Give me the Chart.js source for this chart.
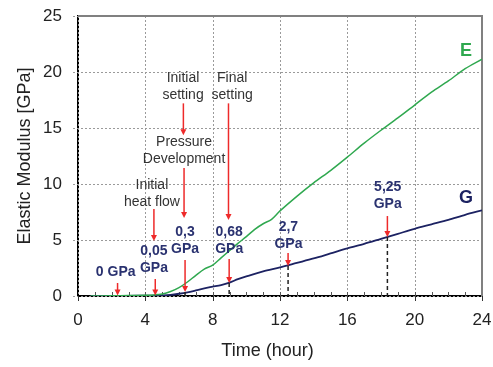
<!DOCTYPE html>
<html>
<head>
<meta charset="utf-8">
<script src="https://cdn.jsdelivr.net/npm/chart.js@4"></script>
<style>
  html, body { margin: 0; padding: 0; background: #fff; }
  #wrap { width: 493px; height: 367px; }
</style>
</head>
<body>
<div id="wrap"><canvas id="chart"></canvas></div>
<script>
// Elastic modulus vs. time
const hoursE = [0.75, 2, 3, 4, 4.5, 5, 5.5, 6, 6.5, 7, 7.5, 8, 8.5, 9, 9.5, 10, 10.5, 11, 11.5, 12, 13, 14, 15, 16, 17, 18, 19, 20, 21, 22, 23, 24];
const valuesE = [0, 0.02, 0.04, 0.07, 0.1, 0.18, 0.4, 0.75, 1.25, 1.85, 2.4, 2.75, 3.4, 4.05, 4.7, 5.3, 5.95, 6.45, 6.85, 7.6, 8.9, 10.1, 11.2, 12.4, 13.65, 14.8, 15.9, 17.05, 18.2, 19.2, 20.3, 21.15];
const hoursG = [0.75, 2, 3, 4, 5, 5.5, 6, 6.5, 7, 7.5, 8, 8.5, 9, 9.5, 10, 11, 12, 13, 14, 15, 16, 17, 18, 19, 20, 21, 22, 23, 24];
const valuesG = [0, 0.01, 0.02, 0.03, 0.06, 0.1, 0.2, 0.33, 0.5, 0.68, 0.83, 0.98, 1.2, 1.5, 1.75, 2.2, 2.55, 2.95, 3.35, 3.8, 4.25, 4.65, 5.1, 5.55, 6.0, 6.4, 6.8, 7.25, 7.65];

// red arrows (hour, from GPa, to GPa)
const arrowX = [2.35, 4.59, 4.51, 6.36, 6.3, 6.26, 8.94, 8.98, 12.48, 18.38];
const arrowFrom = [1.16, 1.52, 7.76, 3.21, 11.42, 17.2, 17.2, 3.3, 3.84, 7.14];
const arrowTo = [0.05, 0.05, 4.9, 0.36, 6.96, 14.36, 6.78, 1.16, 2.68, 5.26];

// black dashed drops to the time axis
const dropX = [6.36, 8.98, 12.48, 18.38];
const dropTop = [0.36, 1.16, 2.68, 5.26];

// text notes, centred on (hour, GPa)
const stageText = [['Initial', 'setting'], ['Final', 'setting'], ['Pressure', 'Development'], ['Initial', 'heat flow']];
const stageX = [6.24, 9.16, 6.3, 4.39];
const stageY = [18.69, 18.69, 12.98, 9.1];
const gpaText = [['0 GPa'], ['0,05', 'GPa'], ['0,3', 'GPa'], ['0,68', 'GPa'], ['2,7', 'GPa'], ['5,25', 'GPa']];
const gpaX = [2.24, 4.51, 6.36, 8.98, 12.5, 18.4];
const gpaY = [2.14, 3.21, 4.91, 4.91, 5.35, 8.92];
const seriesNames = ['E', 'G'];
const seriesNameX = [23.05, 23.05];
const seriesNameY = [21.86, 8.74];

const GREEN = '#2fa84f';
const NAVY = '#1c2262';
const LABEL_NAVY = '#2a3270';
const RED = '#ee2a2a';

const toPoints = (xs, ys) => xs.map((x, i) => ({ x, y: ys[i] }));

const drawNotes = (ctx, texts, xs, ys, xScale, yScale, lineH) => {
  texts.forEach((lines, i) => {
    const cx = xScale.getPixelForValue(xs[i]);
    const cy = yScale.getPixelForValue(ys[i]);
    const top = cy - (lines.length - 1) * lineH / 2;
    lines.forEach((t, k) => ctx.fillText(t, cx, top + k * lineH));
  });
};

const annotations = {
  id: 'annotations',
  beforeDatasetsDraw(chart) {
    const { ctx, chartArea: a, scales: { x, y } } = chart;
    ctx.save();
    // dotted grid + outside tick stubs
    ctx.strokeStyle = '#9a9a9a';
    ctx.lineWidth = 1;
    ctx.setLineDash([2, 2]);
    y.ticks.forEach((t) => {
      const py = Math.round(y.getPixelForValue(t.value)) + 0.5;
      ctx.beginPath();
      ctx.moveTo(a.left - 5, py);
      ctx.lineTo(a.right, py);
      ctx.stroke();
    });
    x.ticks.forEach((t) => {
      const px = Math.round(x.getPixelForValue(t.value)) + 0.5;
      ctx.beginPath();
      ctx.moveTo(px, a.top);
      ctx.lineTo(px, a.bottom);
      ctx.stroke();
    });
    ctx.setLineDash([]);
    ctx.strokeStyle = '#333';
    x.ticks.forEach((t) => {
      const px = Math.round(x.getPixelForValue(t.value)) + 0.5;
      ctx.beginPath();
      ctx.moveTo(px, a.bottom);
      ctx.lineTo(px, a.bottom + 5);
      ctx.stroke();
    });
    // frame on top and right
    ctx.strokeStyle = '#808080';
    ctx.lineWidth = 2;
    ctx.beginPath();
    ctx.moveTo(a.left, a.top);
    ctx.lineTo(a.right, a.top);
    ctx.lineTo(a.right, a.bottom);
    ctx.stroke();
    // minor ticks each hour, inside the plot
    ctx.strokeStyle = '#555';
    ctx.lineWidth = 1;
    for (let h = 1; h < 24; h += 1) {
      const px = Math.round(x.getPixelForValue(h)) + 0.5;
      ctx.beginPath();
      ctx.moveTo(px, a.bottom);
      ctx.lineTo(px, a.bottom - 4);
      ctx.stroke();
    }
    ctx.restore();
  },
  afterDatasetsDraw(chart) {
    const { ctx, scales: { x, y } } = chart;
    ctx.save();
    // dashed drops
    ctx.strokeStyle = '#222';
    ctx.lineWidth = 1.5;
    ctx.setLineDash([4, 3]);
    dropX.forEach((h, i) => {
      const px = x.getPixelForValue(h);
      ctx.beginPath();
      ctx.moveTo(px, y.getPixelForValue(dropTop[i]));
      ctx.lineTo(px, y.getPixelForValue(0));
      ctx.stroke();
    });
    ctx.setLineDash([]);
    // red arrows
    ctx.strokeStyle = RED;
    ctx.fillStyle = RED;
    ctx.lineWidth = 1.5;
    arrowX.forEach((h, i) => {
      const px = x.getPixelForValue(h);
      const y0 = y.getPixelForValue(arrowFrom[i]);
      const y1 = y.getPixelForValue(arrowTo[i]);
      ctx.beginPath();
      ctx.moveTo(px, y0);
      ctx.lineTo(px, y1 - 5);
      ctx.stroke();
      ctx.beginPath();
      ctx.moveTo(px - 3, y1 - 6);
      ctx.lineTo(px + 3, y1 - 6);
      ctx.lineTo(px, y1);
      ctx.closePath();
      ctx.fill();
    });
    ctx.textAlign = 'center';
    ctx.textBaseline = 'middle';
    ctx.fillStyle = '#333';
    ctx.font = '14px "Liberation Sans", Arial, sans-serif';
    drawNotes(ctx, stageText, stageX, stageY, x, y, 17);
    ctx.fillStyle = LABEL_NAVY;
    ctx.font = 'bold 14px "Liberation Sans", Arial, sans-serif';
    drawNotes(ctx, gpaText, gpaX, gpaY, x, y, 17);
    ctx.font = 'bold 18px "Liberation Sans", Arial, sans-serif';
    seriesNames.forEach((n, i) => {
      ctx.fillStyle = i === 0 ? GREEN : NAVY;
      ctx.fillText(n, x.getPixelForValue(seriesNameX[i]), y.getPixelForValue(seriesNameY[i]));
    });
    ctx.restore();
  },
};

const font17 = { family: '"Liberation Sans", Arial, sans-serif', size: 17 };
const font18 = { family: '"Liberation Sans", Arial, sans-serif', size: 18 };

new Chart(document.getElementById('chart'), {
  type: 'line',
  data: {
    datasets: [
      {
        label: 'E',
        data: toPoints(hoursE, valuesE),
        borderColor: GREEN,
        borderWidth: 1.5,
        pointRadius: 0,
        tension: 0.3,
        fill: false,
      },
      {
        label: 'G',
        data: toPoints(hoursG, valuesG),
        borderColor: NAVY,
        borderWidth: 1.8,
        pointRadius: 0,
        tension: 0.3,
        fill: false,
      },
    ],
  },
  options: {
    responsive: true,
    maintainAspectRatio: false,
    animation: false,
    events: [],
    layout: { padding: { top: 16, right: 11, left: 0, bottom: 0 } },
    plugins: { legend: { display: false }, tooltip: { enabled: false } },
    scales: {
      x: {
        type: 'linear',
        min: 0,
        max: 24,
        afterFit: (s) => { s.height = 71; },
        ticks: { stepSize: 4, color: '#222', font: font17, padding: 0, maxRotation: 0 },
        grid: { display: false, tickLength: 14 },
        border: { display: true, color: '#000', width: 2 },
        // trailing spaces nudge the centred title left, as in the source figure
        title: { display: true, text: 'Time (hour)     ', color: '#222', font: font18, padding: { top: 0, bottom: 5 } },
      },
      y: {
        min: 0,
        max: 25,
        afterFit: (s) => { s.width = 78; },
        ticks: { stepSize: 5, color: '#222', font: font17, padding: 0 },
        grid: { display: false, tickLength: 16 },
        border: { display: true, color: '#000', width: 2 },
        title: { display: true, text: 'Elastic Modulus [GPa]', color: '#222', font: font18, padding: { top: 14 } },
      },
    },
  },
  plugins: [annotations],
});
</script>
</body>
</html>
